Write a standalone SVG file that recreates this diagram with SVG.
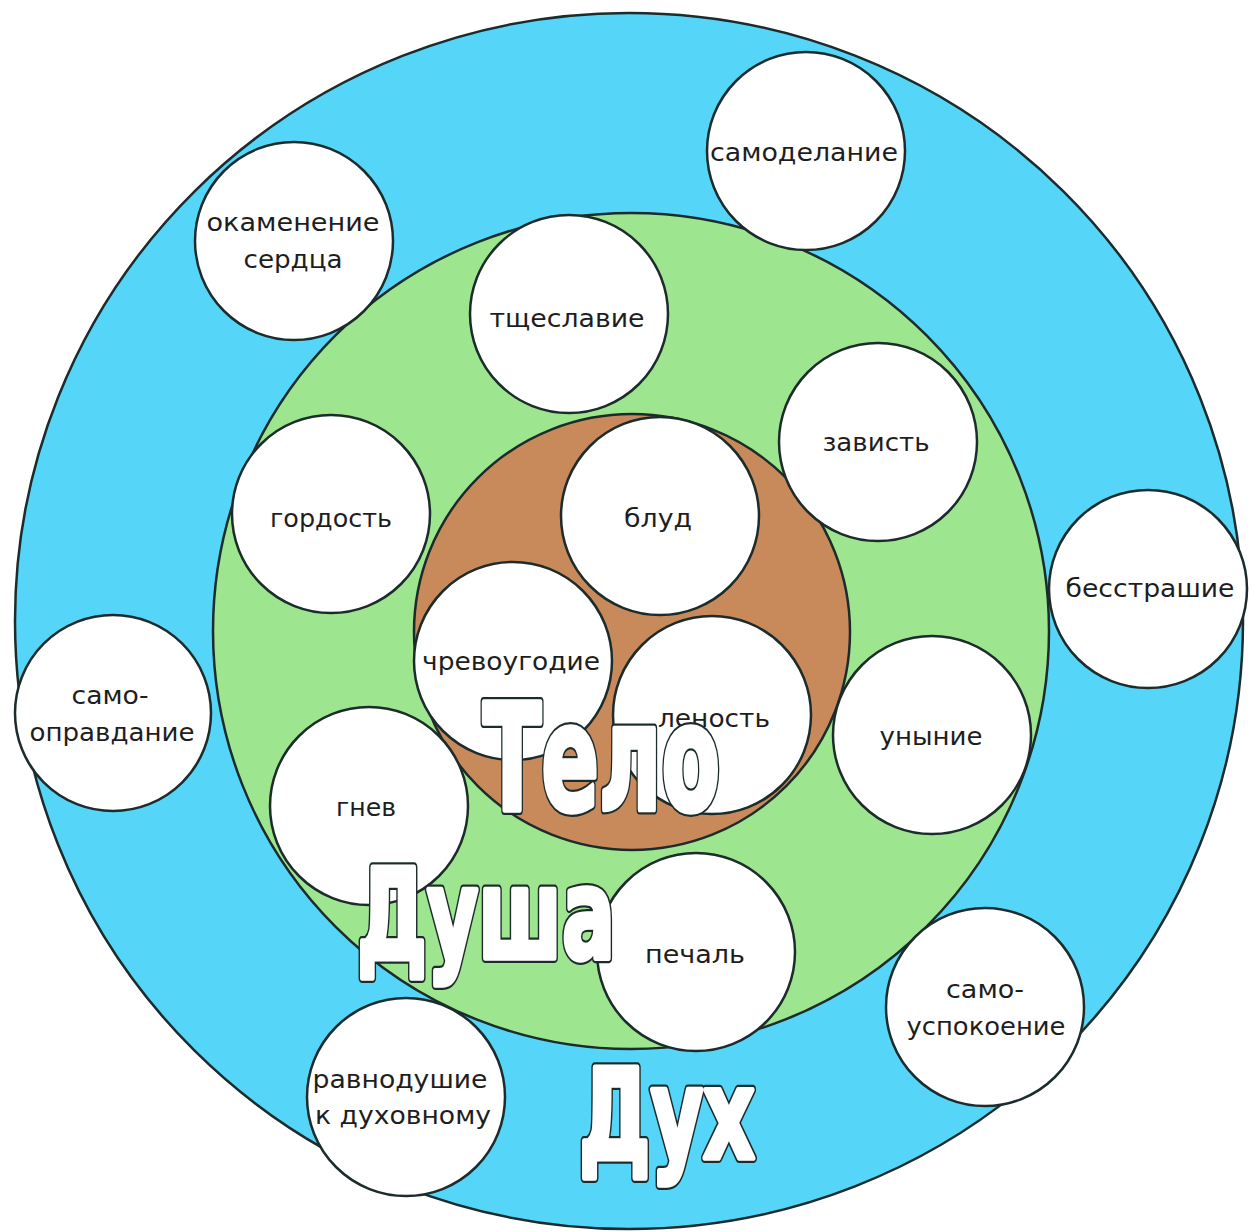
<svg xmlns="http://www.w3.org/2000/svg" width="1249" height="1232" viewBox="0 0 1249 1232">
<style>
.ring{stroke:#1c2b2b;stroke-width:2.5}
.n circle{fill:#ffffff;stroke:#1c2b2b;stroke-width:2.5}
.n text{font-family:"DejaVu Sans","Liberation Sans",sans-serif;font-size:24px;fill:#1e1e1e;text-anchor:middle}
.big{font-family:"DejaVu Sans","Liberation Sans",sans-serif;font-weight:bold;stroke-linejoin:round}
.outer{fill:#1c2b2b;stroke:#1c2b2b;stroke-width:10}
.inner{fill:#ffffff;stroke:#ffffff;stroke-width:5.5}
</style>
<defs>
<text id="t-telo" class="big" x="483" y="810" font-size="148" textLength="237" lengthAdjust="spacingAndGlyphs">Тело</text>
<text id="t-dusha" class="big" x="357" y="958" font-size="124" textLength="258" lengthAdjust="spacingAndGlyphs">Душа</text>
<text id="t-dukh" class="big" x="579" y="1158" font-size="124" textLength="176" lengthAdjust="spacingAndGlyphs">Дух</text>
</defs>
<rect width="1249" height="1232" fill="#ffffff"/>
<g id="spirit-zone"><ellipse class="ring" cx="629" cy="621" rx="614" ry="608" fill="#55d5f8"/></g>
<g id="soul-zone"><circle class="ring" cx="631" cy="631" r="418" fill="#9de58e"/></g>
<g id="body-zone"><circle class="ring" cx="632" cy="632" r="218" fill="#c98a5b"/></g>
<g id="connectors"></g>
<g id="n-samodelanie" class="n"><circle cx="806" cy="151" r="99"/><text x="804" y="161" textLength="188" lengthAdjust="spacingAndGlyphs">самоделание</text></g>
<g id="n-okamenenie" class="n"><circle cx="294" cy="241" r="99"/><text x="293" y="231" textLength="173" lengthAdjust="spacingAndGlyphs">окаменение</text><text x="293" y="268" textLength="99" lengthAdjust="spacingAndGlyphs">сердца</text></g>
<g id="n-tscheslavie" class="n"><circle cx="569" cy="314" r="99"/><text x="567" y="327" textLength="155" lengthAdjust="spacingAndGlyphs">тщеславие</text></g>
<g id="n-zavist" class="n"><circle cx="878" cy="442" r="99"/><text x="876" y="451" textLength="107" lengthAdjust="spacingAndGlyphs">зависть</text></g>
<g id="n-gordost" class="n"><circle cx="331" cy="514" r="99"/><text x="331" y="527" textLength="122" lengthAdjust="spacingAndGlyphs">гордость</text></g>
<g id="n-blud" class="n"><circle cx="660" cy="516" r="99"/><text x="658" y="527" textLength="68" lengthAdjust="spacingAndGlyphs">блуд</text></g>
<g id="n-besstrashie" class="n"><circle cx="1148" cy="589" r="99"/><text x="1150" y="597" textLength="169" lengthAdjust="spacingAndGlyphs">бесстрашие</text></g>
<g id="n-chrevougodie" class="n"><circle cx="513" cy="661" r="99"/><text x="511" y="670" textLength="178" lengthAdjust="spacingAndGlyphs">чревоугодие</text></g>
<g id="n-samoopravdanie" class="n"><circle cx="113" cy="713" r="98"/><text x="110" y="704" textLength="77" lengthAdjust="spacingAndGlyphs">само-</text><text x="112" y="741" textLength="165" lengthAdjust="spacingAndGlyphs">оправдание</text></g>
<g id="n-lenost" class="n"><circle cx="712" cy="715" r="99"/><text x="714" y="727" textLength="112" lengthAdjust="spacingAndGlyphs">леность</text></g>
<g id="n-unynie" class="n"><circle cx="932" cy="735" r="99"/><text x="931" y="745" textLength="103" lengthAdjust="spacingAndGlyphs">уныние</text></g>
<g id="n-gnev" class="n"><circle cx="369" cy="806" r="99"/><text x="366" y="816" textLength="60" lengthAdjust="spacingAndGlyphs">гнев</text></g>
<g id="n-pechal" class="n"><circle cx="696" cy="952" r="99"/><text x="695" y="963" textLength="100" lengthAdjust="spacingAndGlyphs">печаль</text></g>
<g id="n-samouspokoenie" class="n"><circle cx="985" cy="1007" r="99"/><text x="985" y="998" textLength="78" lengthAdjust="spacingAndGlyphs">само-</text><text x="986" y="1035" textLength="159" lengthAdjust="spacingAndGlyphs">успокоение</text></g>
<g id="n-ravnodushie" class="n"><circle cx="406" cy="1097" r="99"/><text x="400" y="1088" textLength="175" lengthAdjust="spacingAndGlyphs">равнодушие</text><text x="403" y="1124" textLength="176" lengthAdjust="spacingAndGlyphs">к духовному</text></g>
<g id="label-telo"><use href="#t-telo" class="outer"/><use href="#t-telo" class="inner"/></g>
<g id="label-dusha"><use href="#t-dusha" class="outer"/><use href="#t-dusha" class="inner"/></g>
<g id="label-dukh"><use href="#t-dukh" class="outer"/><use href="#t-dukh" class="inner"/></g>
</svg>
